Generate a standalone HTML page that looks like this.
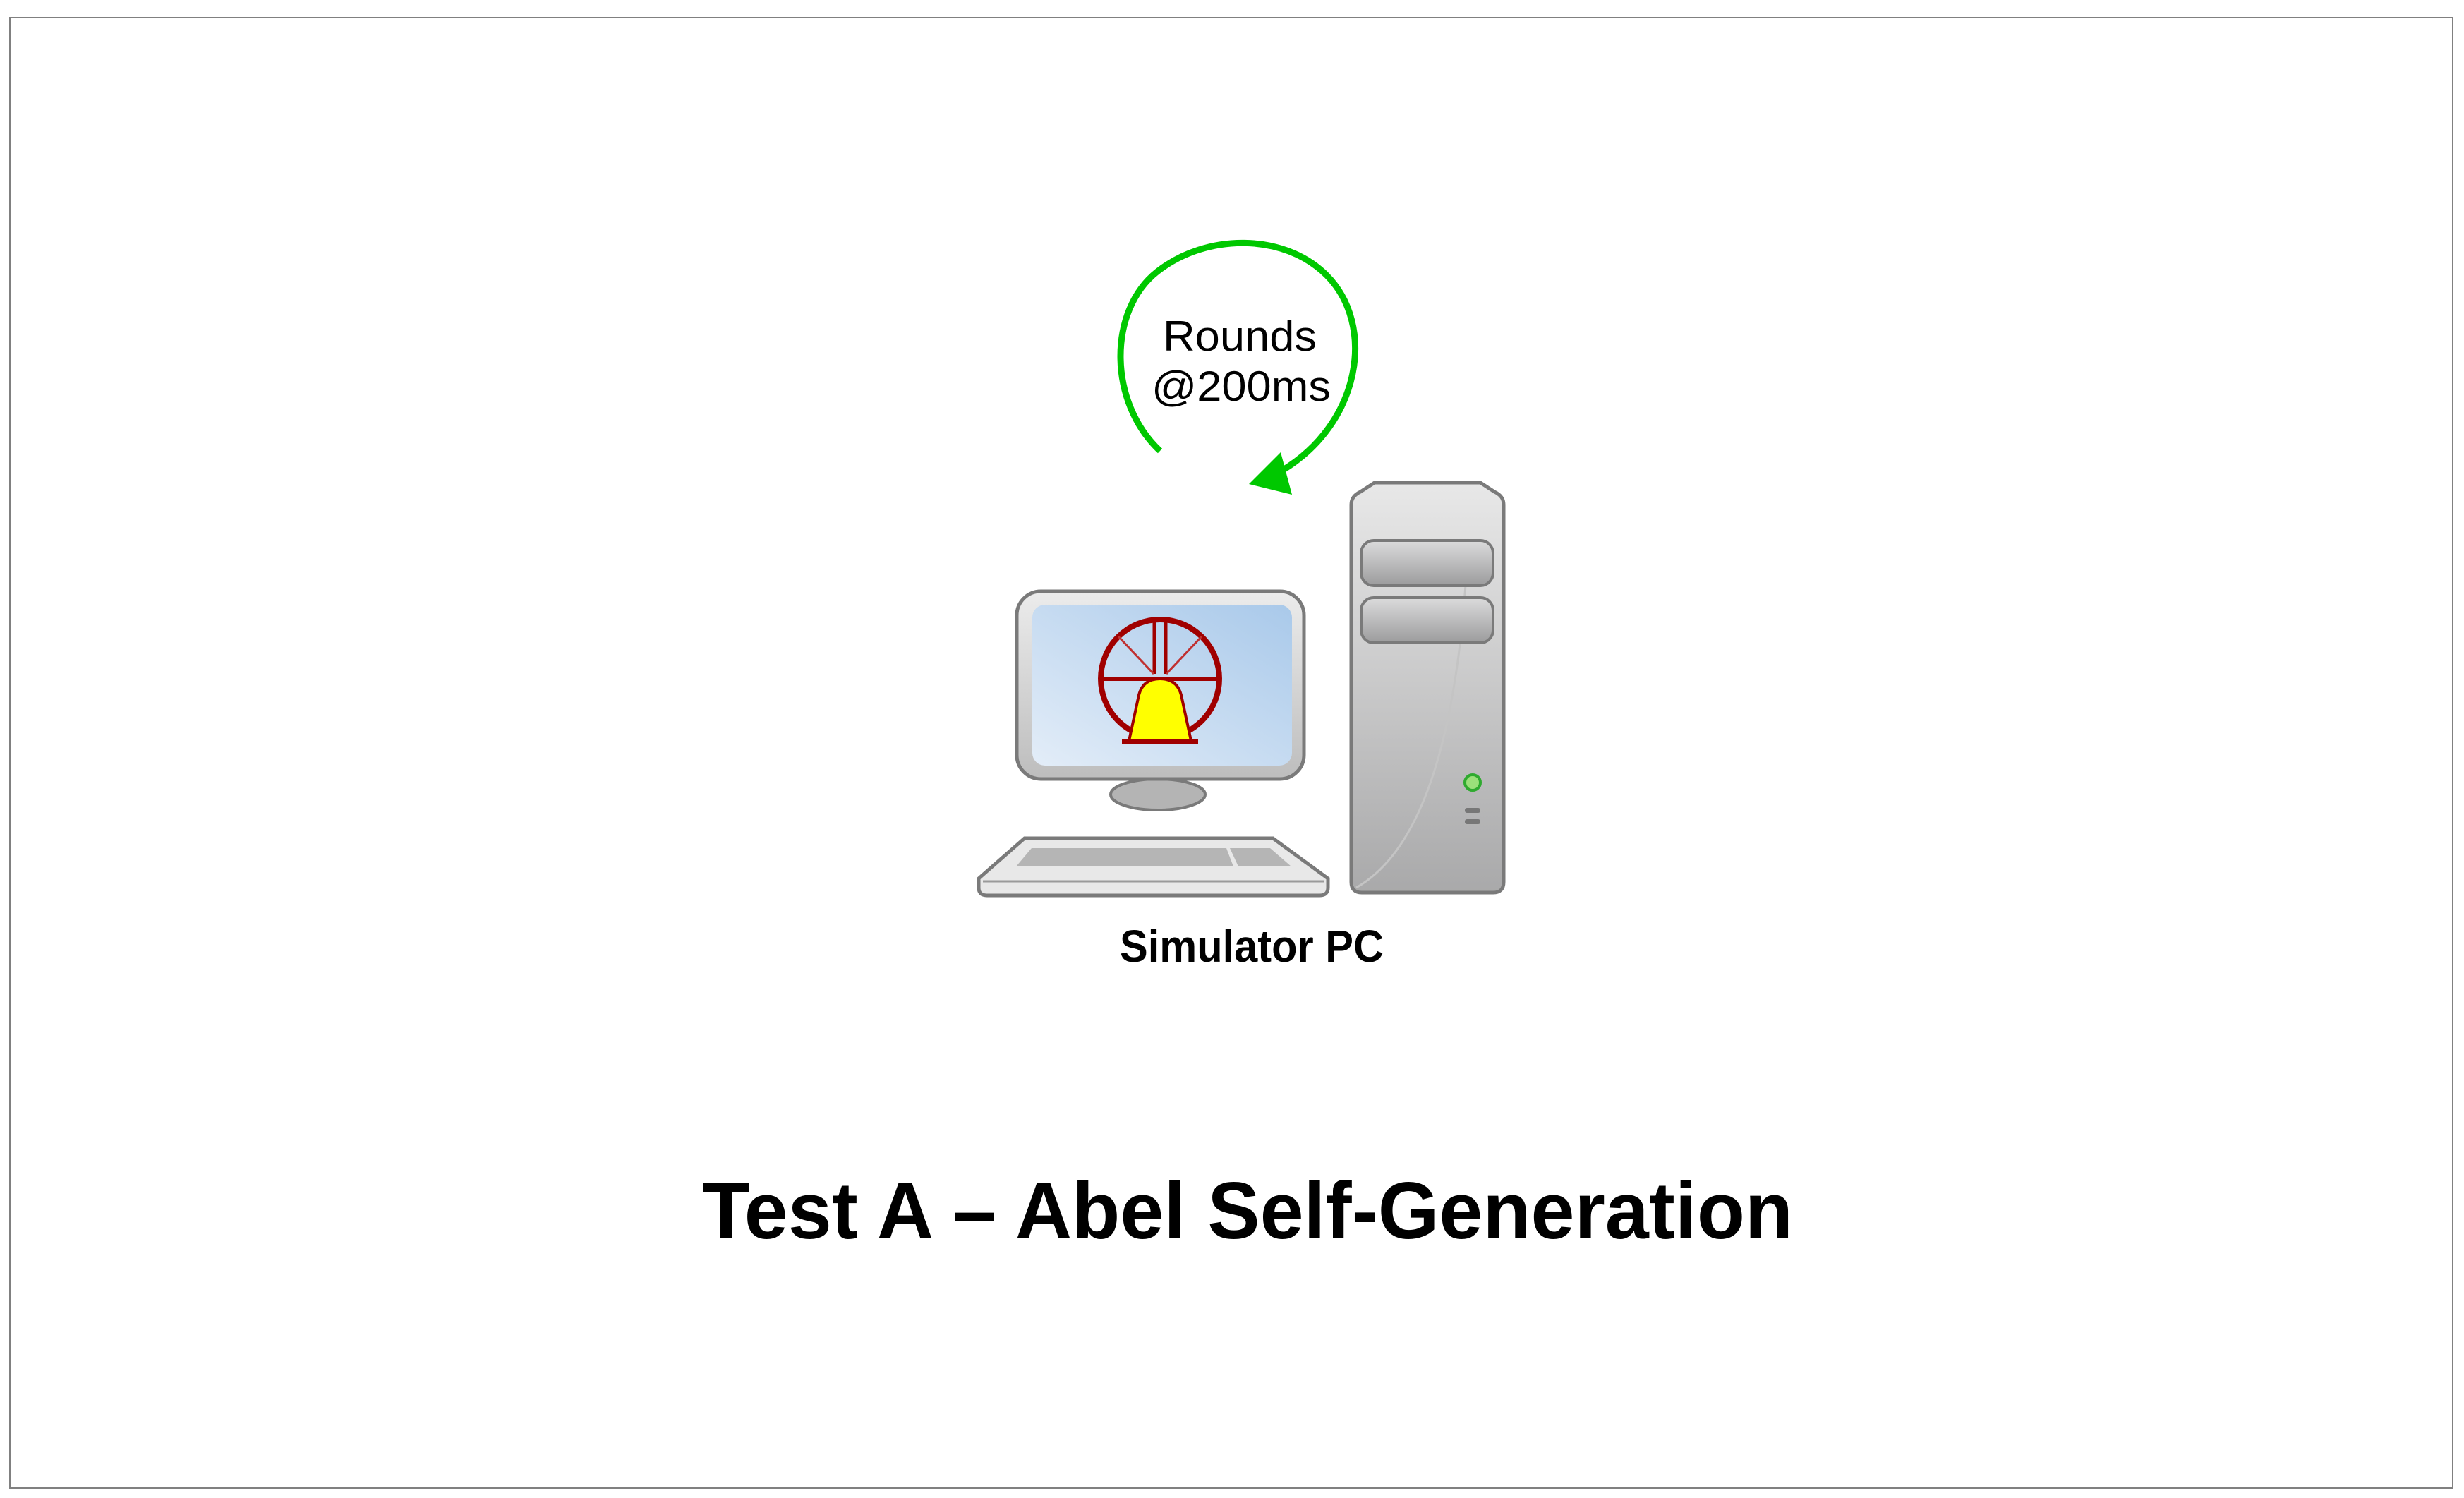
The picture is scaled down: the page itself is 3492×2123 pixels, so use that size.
<!DOCTYPE html>
<html><head><style>
html,body{margin:0;padding:0;background:#fff;}
svg{display:block;}
</style></head><body>
<svg width="3492" height="2123" viewBox="0 0 3492 2123" xmlns="http://www.w3.org/2000/svg">
<defs>
<linearGradient id="tow" x1="0" y1="0" x2="0" y2="1"><stop offset="0" stop-color="#e8e8e8"/><stop offset="1" stop-color="#a9a9aa"/></linearGradient>
<linearGradient id="bay" x1="0" y1="0" x2="0" y2="1"><stop offset="0" stop-color="#dcdcdc"/><stop offset="1" stop-color="#9c9c9d"/></linearGradient>
<linearGradient id="scr" x1="0" y1="1" x2="1" y2="0"><stop offset="0" stop-color="#e3edf8"/><stop offset="1" stop-color="#a9c9ea"/></linearGradient>
<linearGradient id="mon" x1="0" y1="0" x2="0" y2="1"><stop offset="0" stop-color="#ececec"/><stop offset="1" stop-color="#bdbdbd"/></linearGradient>
</defs>
<rect x="14" y="25" width="3462" height="2084" fill="#fff" stroke="#808080" stroke-width="2"/>

<!-- loop arrow -->
<path d="M1644 639 C1570 570 1570 440 1640 385 C1710 330 1820 330 1880 390 C1950 460 1930 600 1815 668" fill="none" stroke="#00c800" stroke-width="9"/>
<polygon points="1770,686 1815,641 1831,701" fill="#00c800"/>
<text x="1757" y="497" font-family="Liberation Sans, sans-serif" font-size="60" text-anchor="middle" textLength="218" lengthAdjust="spacingAndGlyphs">Rounds</text>
<text x="1759" y="568" font-family="Liberation Sans, sans-serif" font-size="60" text-anchor="middle" textLength="254" lengthAdjust="spacingAndGlyphs">@200ms</text>

<!-- tower -->
<path d="M1915 715 L1915 1250 Q1915 1265 1930 1265 L2116 1265 Q2131 1265 2131 1250 L2131 715 Q2131 703 2118 697 L2098 684 L1948 684 L1928 697 Q1915 703 1915 715 Z" fill="url(#tow)" stroke="#7a7a7a" stroke-width="5"/>
<path d="M1922 1258 Q2060 1180 2080 780" fill="none" stroke="#c4c4c4" stroke-width="3"/>
<rect x="1929" y="766" width="187" height="64" rx="18" fill="url(#bay)" stroke="#7a7a7a" stroke-width="4"/>
<rect x="1929" y="847" width="187" height="64" rx="18" fill="url(#bay)" stroke="#7a7a7a" stroke-width="4"/>
<circle cx="2087" cy="1109" r="11" fill="#9be07a" stroke="#2faa2f" stroke-width="4"/>
<rect x="2076" y="1145" width="22" height="7" rx="3" fill="#777"/>
<rect x="2076" y="1161" width="22" height="7" rx="3" fill="#777"/>

<!-- monitor -->
<ellipse cx="1641" cy="1126" rx="67" ry="22" fill="#b4b4b4" stroke="#7a7a7a" stroke-width="4"/>
<rect x="1441" y="838" width="407" height="266" rx="34" fill="url(#mon)" stroke="#7a7a7a" stroke-width="5"/>
<rect x="1463" y="857" width="368" height="228" rx="18" fill="url(#scr)"/>
<!-- bell wheel icon -->
<circle cx="1644" cy="962" r="84" fill="none" stroke="#a00000" stroke-width="8"/>
<line x1="1560" y1="962" x2="1728" y2="962" stroke="#a00000" stroke-width="6"/>
<line x1="1636" y1="878" x2="1636" y2="955" stroke="#a00000" stroke-width="5"/>
<line x1="1652" y1="878" x2="1652" y2="955" stroke="#a00000" stroke-width="5"/>
<line x1="1585" y1="902" x2="1635" y2="955" stroke="#c03030" stroke-width="3"/>
<line x1="1703" y1="902" x2="1653" y2="955" stroke="#c03030" stroke-width="3"/>
<path d="M1600 1050 L1614 985 Q1620 962 1644 962 Q1668 962 1674 985 L1688 1050 Z" fill="#ffff00" stroke="#a00000" stroke-width="4"/>
<rect x="1590" y="1048" width="108" height="7" fill="#a00000"/>

<!-- keyboard -->
<path d="M1452 1188 L1804 1188 L1882 1245 L1882 1258 Q1882 1269 1870 1269 L1399 1269 Q1387 1269 1387 1258 L1387 1245 Z" fill="#e8e8e8" stroke="#7a7a7a" stroke-width="5"/>
<path d="M1393 1249 L1876 1249" stroke="#9a9a9a" stroke-width="3"/>
<path d="M1462 1202 L1738 1202 L1748 1228 L1440 1228 Z" fill="#b5b5b5"/>
<path d="M1743 1202 L1800 1202 L1830 1228 L1755 1228 Z" fill="#b5b5b5"/>

<text x="1774" y="1363" font-family="Liberation Sans, sans-serif" font-weight="bold" font-size="64" text-anchor="middle" textLength="374" lengthAdjust="spacingAndGlyphs">Simulator PC</text>

<text x="995" y="1755" font-family="Liberation Sans, sans-serif" font-weight="bold" font-size="114" textLength="1546" lengthAdjust="spacingAndGlyphs">Test A – Abel Self-Generation</text>
</svg>
</body></html>
